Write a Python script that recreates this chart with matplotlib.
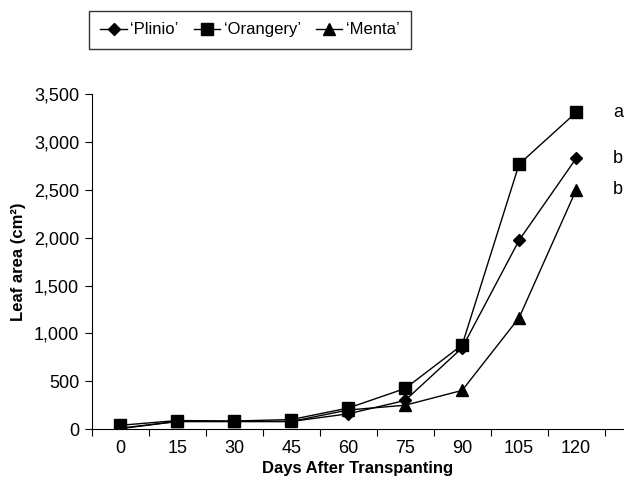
import matplotlib
matplotlib.use("Agg")
import matplotlib.pyplot as plt
from matplotlib import font_manager

nomes = [f.name for f in font_manager.fontManager.ttflist]
fonte = "Liberation Sans Narrow" if "Liberation Sans Narrow" in nomes else "Liberation Sans"
plt.rcParams["font.family"] = [fonte, "DejaVu Sans"]

dias = ["0", "15", "30", "45", "60", "75", "90", "105", "120"]
plinio = [5, 80, 80, 80, 160, 300, 850, 1975, 2830]
orangery = [40, 90, 85, 100, 220, 425, 880, 2770, 3310]
menta = [10, 80, 80, 80, 200, 250, 405, 1165, 2500]
letras = ["a", "b", "b"]
letras_y = [3310, 2830, 2500]

fig = plt.figure(figsize=(6.24, 4.91), dpi=100)
ax = fig.add_axes([0.147, 0.126, 0.853, 0.682])

x = range(len(dias))
l1, = ax.plot(x, plinio, "-D", color="black", lw=1, ms=6, label="\u2018Plinio\u2019")
l2, = ax.plot(x, orangery, "-s", color="black", lw=1, ms=9, label="\u2018Orangery\u2019")
l3, = ax.plot(x, menta, "-^", color="black", lw=1, ms=9, label="\u2018Menta\u2019")

for txt, yv in zip(letras, letras_y):
    ax.text(len(dias) - 1 + 0.65, yv, txt, fontsize=13, va="center", ha="left", clip_on=False)

ax.set_xlim(-0.5, 8.84)
ax.set_ylim(0, 3500)
ax.set_xticks(x)
ax.set_xticklabels(dias)
ax.set_xticks([i + 0.5 for i in range(-1, 9)], minor=True)
ax.tick_params(axis="x", which="major", length=0, labelsize=13, pad=8)
ax.tick_params(axis="x", which="minor", length=5, direction="out", width=0.8)
ax.set_yticks(range(0, 3501, 500))
ax.set_yticklabels([f"{v:,}" for v in range(0, 3501, 500)])
ax.tick_params(axis="y", length=5, width=0.8, labelsize=13, pad=4)

ax.spines["top"].set_visible(False)
ax.spines["right"].set_visible(False)
ax.spines["left"].set_linewidth(0.8)
ax.spines["bottom"].set_linewidth(0.8)

ax.set_xlabel("Days After Transpanting", fontsize=12, fontweight="bold", labelpad=3)
ax.set_ylabel("Leaf area (cm\u00b2)", fontsize=12, fontweight="bold", labelpad=6)

leg = fig.legend(handles=[l1, l2, l3], loc="upper left", bbox_to_anchor=(0.142, 0.978),
                 ncol=3, fontsize=12, frameon=True, fancybox=False, handlelength=1.6,
                 columnspacing=0.9, handletextpad=0.2, borderpad=0.7, borderaxespad=0)
leg.get_frame().set_edgecolor("black")
leg.get_frame().set_linewidth(1)

fig.savefig("out.png", dpi=100)
plt.close()
